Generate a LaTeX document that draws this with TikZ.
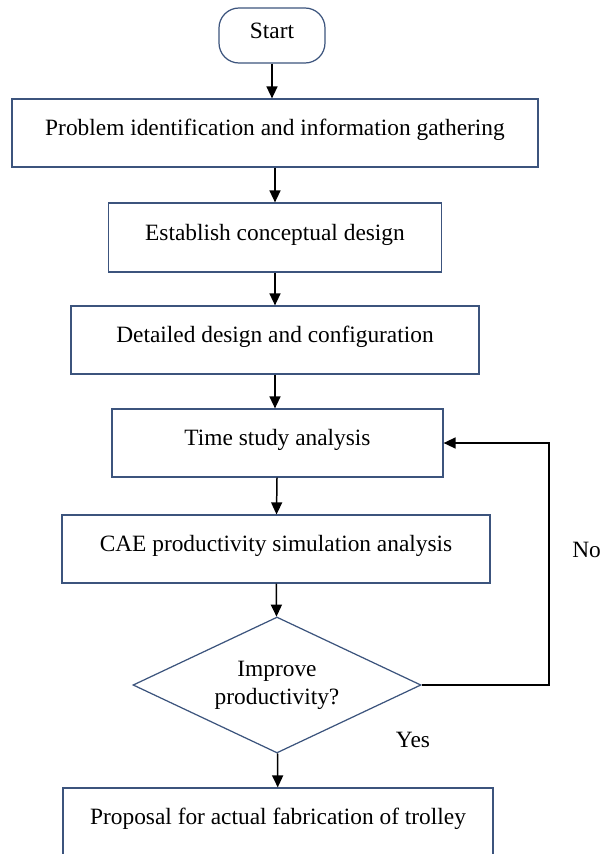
\documentclass[tikz,border=0pt]{standalone}
\usepackage{fontspec}
\setmainfont{Liberation Serif}
\usetikzlibrary{shapes.geometric,arrows.meta}
\definecolor{boxline}{RGB}{60,84,125}
\begin{document}
\begin{tikzpicture}[font=\fontsize{13.3}{16}\selectfont,>={Triangle[length=0.24cm,width=0.22cm]}]
	\useasboundingbox (0,0) rectangle (12,-17.08);
	\begin{scope}[every node/.style={rectangle,draw=boxline,line width=0.7pt,minimum height=1.36cm,text height=0.36cm,text depth=0.25cm}]
		\node (start) [rounded corners=0.4cm,minimum width=2.12cm,minimum height=1.10cm] at (5.44,-0.71) {Start};
		\node (problem) [minimum width=10.52cm] at (5.50,-2.66) {Problem identification and information gathering};
		\node (concept) [minimum width=6.66cm,minimum height=1.38cm] at (5.50,-4.75) {Establish conceptual design};
		\node (detail) [minimum width=8.16cm] at (5.50,-6.80) {Detailed design and configuration};
		\node (time) [minimum width=6.62cm] at (5.55,-8.86) {Time study analysis};
		\node (cae) [minimum width=8.56cm] at (5.52,-10.98) {CAE productivity simulation analysis};
		\node (trolley) [minimum width=8.60cm] at (5.56,-16.44) {Proposal for actual fabrication of trolley};
	\end{scope}
	\node (improve) [diamond,aspect=2.12,draw=boxline,line width=0.7pt,minimum width=5.76cm,minimum height=2.72cm,inner sep=0pt,align=center] at (5.54,-13.70) {Improve\\productivity?};
	\coordinate (loop) at (10.98,-13.70);

	\node (no) [anchor=west,inner sep=0pt] at (11.44,-11.00) {No};
	\node (yes) at (8.26,-14.80) {Yes};

	\begin{scope}[every edge/.style={draw=black,line width=0.85pt}]
		\path [->] (start.south) edge (start.south |- problem.north);
		\path [->] (problem) edge (concept);
		\path [->] (concept) edge (detail);
		\path [->] (detail.south) edge (detail.south |- time.north);
		\path [->] (time) edge (cae);
		\path [->] (cae) edge (improve);
		\path [->] (improve) edge (trolley);
	\end{scope}
	\draw [->,line width=0.85pt] (improve.east) -- (loop) |- (time.east);
\end{tikzpicture}
\end{document}
